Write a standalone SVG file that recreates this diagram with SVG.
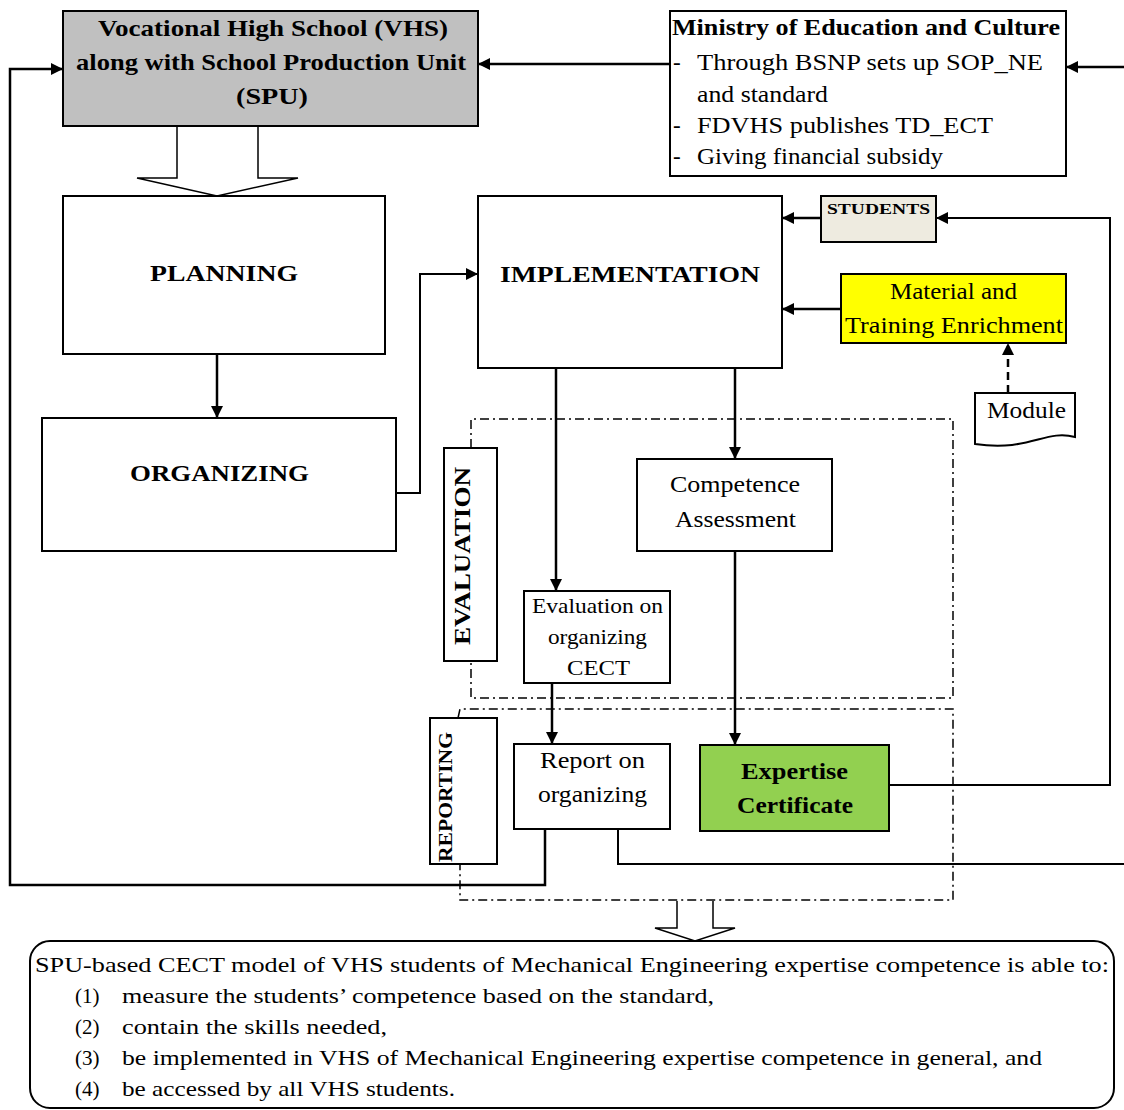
<svg xmlns="http://www.w3.org/2000/svg" width="1124" height="1110" viewBox="0 0 1124 1110">
<defs>
<marker id="ah" viewBox="0 0 12 12" refX="12" refY="6" markerWidth="12" markerHeight="12" markerUnits="userSpaceOnUse" orient="auto">
<path d="M0,0 L12,6 L0,12 Z" fill="#000"/>
</marker>
<style>
.box{fill:#fff;stroke:#000;stroke-width:2}
.t{font-family:"Liberation Serif","Times New Roman",serif;fill:#000}
.b{font-weight:bold}
.c{text-anchor:middle}
.ln{fill:none;stroke:#000;stroke-width:2.5}
.thin{fill:none;stroke:#000;stroke-width:2}
.dd{fill:none;stroke:#000;stroke-width:1.5;stroke-dasharray:9,4,2,4}
</style>
</defs>
<rect width="1124" height="1110" fill="#fff"/>

<g id="connectors">
<path class="ln" d="M670,64 H478" marker-end="url(#ah)"/>
<path class="ln" d="M1124,67 H1066" marker-end="url(#ah)"/>
<path class="ln" d="M545,829 V885 H10 V69 H63" marker-end="url(#ah)"/>
<path class="thin" d="M618,829 V864 H1124"/>
<path class="ln" d="M217,354 V418" marker-end="url(#ah)"/>
<path class="thin" d="M396,493 H420 V274 H478" marker-end="url(#ah)"/>
<path class="ln" d="M821,218 H782" marker-end="url(#ah)"/>
<path class="thin" d="M889,785 H1110 V218 H936" marker-end="url(#ah)"/>
<path class="ln" d="M841,309 H782" marker-end="url(#ah)"/>
<path class="ln" d="M1008,393 V343" stroke-dasharray="8,5" marker-end="url(#ah)"/>
<path class="ln" d="M556,368 V591" marker-end="url(#ah)"/>
<path class="ln" d="M735,368 V459" marker-end="url(#ah)"/>
<path class="ln" d="M552,683 V744" marker-end="url(#ah)"/>
<path class="ln" d="M735,551 V745" marker-end="url(#ah)"/>
<path fill="#fff" stroke="#000" stroke-width="1.5" d="M177,126 V178 H137 L217,196 L298,178 H258 V126"/>
<path fill="#fff" stroke="#000" stroke-width="1.5" d="M677,901 V928 H655 L695,941 L735,928 H713 V901"/>
</g>

<g id="evaluation-frame">
<path class="dd" d="M471,448 V419 H953 V698 H471 V661"/>
</g>
<g id="reporting-frame">
<path class="dd" d="M458,718 L460,709 H953 V900 H460 V864"/>
</g>

<g id="vhs">
<rect x="63" y="11" width="415" height="115" fill="#c0c0c0" stroke="#000" stroke-width="2"/>
<text class="t b" x="98" y="36" font-size="24" textLength="350" lengthAdjust="spacingAndGlyphs">Vocational High School (VHS)</text>
<text class="t b" x="76" y="70" font-size="24" textLength="390" lengthAdjust="spacingAndGlyphs">along with School Production Unit</text>
<text class="t b" x="236" y="104" font-size="24" textLength="72" lengthAdjust="spacingAndGlyphs">(SPU)</text>
</g>

<g id="ministry">
<rect class="box" x="670" y="11" width="396" height="165"/>
<text class="t b" x="672" y="35" font-size="24" textLength="388" lengthAdjust="spacingAndGlyphs">Ministry of Education and Culture</text>
<text class="t" x="673" y="70" font-size="23">-</text>
<text class="t" x="697" y="70" font-size="23" textLength="346" lengthAdjust="spacingAndGlyphs">Through BSNP sets up SOP_NE</text>
<text class="t" x="697" y="102" font-size="23" textLength="131" lengthAdjust="spacingAndGlyphs">and standard</text>
<text class="t" x="673" y="133" font-size="23">-</text>
<text class="t" x="697" y="133" font-size="23" textLength="296" lengthAdjust="spacingAndGlyphs">FDVHS publishes TD_ECT</text>
<text class="t" x="673" y="164" font-size="23">-</text>
<text class="t" x="697" y="164" font-size="23" textLength="246" lengthAdjust="spacingAndGlyphs">Giving financial subsidy</text>
</g>

<g id="planning">
<rect class="box" x="63" y="196" width="322" height="158"/>
<text class="t b" x="150" y="281" font-size="23" textLength="148" lengthAdjust="spacingAndGlyphs">PLANNING</text>
</g>

<g id="organizing">
<rect class="box" x="42" y="418" width="354" height="133"/>
<text class="t b" x="130" y="481" font-size="23" textLength="179" lengthAdjust="spacingAndGlyphs">ORGANIZING</text>
</g>

<g id="implementation">
<rect class="box" x="478" y="196" width="304" height="172"/>
<text class="t b" x="500" y="282" font-size="23" textLength="260" lengthAdjust="spacingAndGlyphs">IMPLEMENTATION</text>
</g>

<g id="students">
<rect x="821" y="196" width="115" height="46" fill="#eeebe0" stroke="#000" stroke-width="2"/>
<text class="t b" x="827" y="214" font-size="15" textLength="103" lengthAdjust="spacingAndGlyphs">STUDENTS</text>
</g>

<g id="material">
<rect x="841" y="274" width="225" height="69" fill="#ffff00" stroke="#000" stroke-width="2"/>
<text class="t" x="890" y="299" font-size="23" textLength="127" lengthAdjust="spacingAndGlyphs">Material and</text>
<text class="t" x="845" y="333" font-size="23" textLength="218" lengthAdjust="spacingAndGlyphs">Training Enrichment</text>
</g>

<g id="module">
<path class="box" d="M975,393 H1075 V437 C1045,429 1030,452 975,444 Z"/>
<text class="t" x="987" y="418" font-size="23" textLength="79" lengthAdjust="spacingAndGlyphs">Module</text>
</g>

<g id="evaluation-label">
<rect class="box" x="444" y="448" width="53" height="213"/>
<text class="t b c" font-size="23" transform="translate(470,556) rotate(-90)" textLength="178" lengthAdjust="spacingAndGlyphs">EVALUATION</text>
</g>

<g id="competence">
<rect class="box" x="637" y="459" width="195" height="92"/>
<text class="t" x="670" y="492" font-size="23" textLength="130" lengthAdjust="spacingAndGlyphs">Competence</text>
<text class="t" x="675" y="527" font-size="23" textLength="121" lengthAdjust="spacingAndGlyphs">Assessment</text>
</g>

<g id="evaluation-on-organizing">
<rect class="box" x="524" y="591" width="146" height="92"/>
<text class="t" x="532" y="613" font-size="21" textLength="131" lengthAdjust="spacingAndGlyphs">Evaluation on</text>
<text class="t" x="548" y="644" font-size="21" textLength="99" lengthAdjust="spacingAndGlyphs">organizing</text>
<text class="t" x="567" y="675" font-size="21" textLength="63" lengthAdjust="spacingAndGlyphs">CECT</text>
</g>

<g id="reporting-label">
<rect class="box" x="430" y="718" width="67" height="146"/>
<text class="t b c" font-size="19" transform="translate(452,797) rotate(-90)" textLength="130" lengthAdjust="spacingAndGlyphs">REPORTING</text>
</g>

<g id="report">
<rect class="box" x="514" y="744" width="156" height="85"/>
<text class="t" x="540" y="768" font-size="23" textLength="105" lengthAdjust="spacingAndGlyphs">Report on</text>
<text class="t" x="538" y="802" font-size="23" textLength="109" lengthAdjust="spacingAndGlyphs">organizing</text>
</g>

<g id="expertise">
<rect x="700" y="745" width="189" height="86" fill="#92d050" stroke="#000" stroke-width="2"/>
<text class="t b" x="741" y="779" font-size="23" textLength="107" lengthAdjust="spacingAndGlyphs">Expertise</text>
<text class="t b" x="737" y="813" font-size="23" textLength="116" lengthAdjust="spacingAndGlyphs">Certificate</text>
</g>

<g id="summary">
<rect class="box" x="30" y="941" width="1084" height="167" rx="20"/>
<text class="t" x="35" y="972" font-size="21" textLength="1074" lengthAdjust="spacingAndGlyphs">SPU-based CECT model of VHS students of Mechanical Engineering expertise competence is able to:</text>
<text class="t" x="75" y="1003" font-size="21">(1)</text>
<text class="t" x="122" y="1003" font-size="21" textLength="592" lengthAdjust="spacingAndGlyphs">measure the students’ competence based on the standard,</text>
<text class="t" x="75" y="1034" font-size="21">(2)</text>
<text class="t" x="122" y="1034" font-size="21" textLength="265" lengthAdjust="spacingAndGlyphs">contain the skills needed,</text>
<text class="t" x="75" y="1065" font-size="21">(3)</text>
<text class="t" x="122" y="1065" font-size="21" textLength="920" lengthAdjust="spacingAndGlyphs">be implemented in VHS of Mechanical Engineering expertise competence in general, and</text>
<text class="t" x="75" y="1096" font-size="21">(4)</text>
<text class="t" x="122" y="1096" font-size="21" textLength="333" lengthAdjust="spacingAndGlyphs">be accessed by all VHS students.</text>
</g>
</svg>
